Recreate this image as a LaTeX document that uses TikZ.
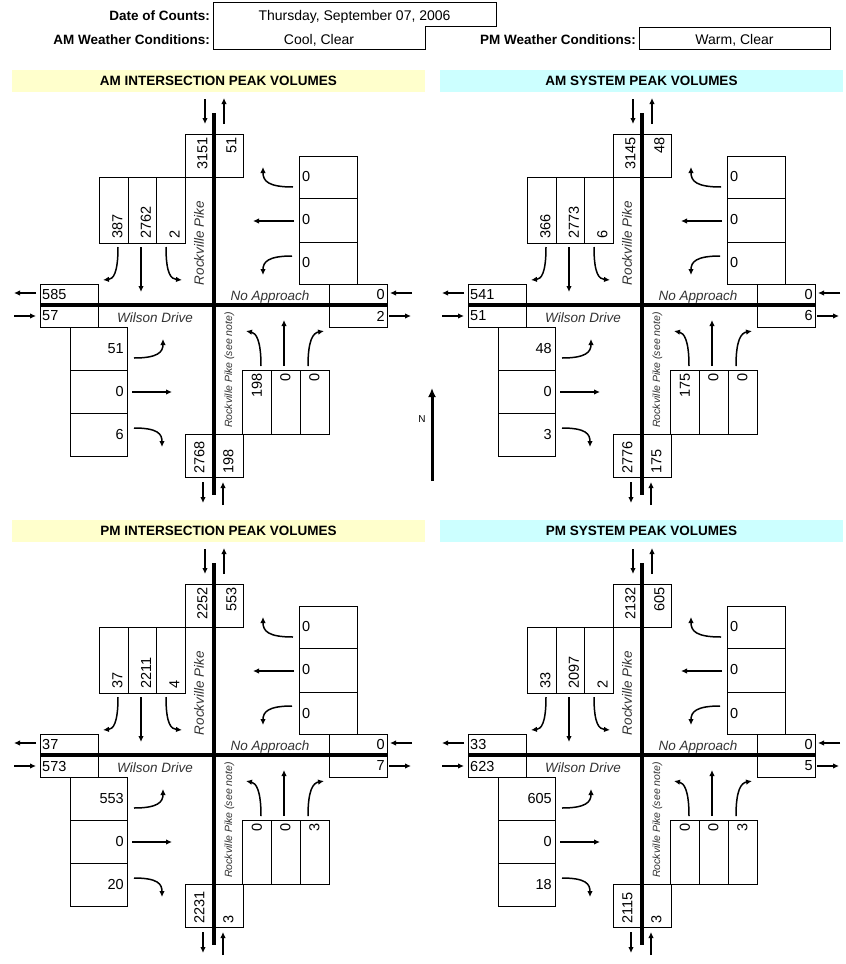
\documentclass[tikz,border=0pt]{standalone}
\usepackage{fontspec}
\setmainfont{Liberation Sans}
\usetikzlibrary{arrows.meta}
\definecolor{bandY}{HTML}{FFFFCC}
\definecolor{bandC}{HTML}{CCFFFF}
\definecolor{lblgray}{HTML}{333333}
\tikzset{
  box/.style={draw=black, line width=1pt},
  road/.style={line width=3.2pt, line cap=butt},
  arr/.style={line width=1.5pt, -{Latex[length=6pt,width=5.5pt]}},
  num/.style={inner sep=0pt, font=\fontsize{14.5}{15}\selectfont},
  vnum/.style={num, rotate=90},
  lbl/.style={inner sep=0pt, text=lblgray, font=\fontsize{13.5}{14}\selectfont\itshape},
  hdr/.style={inner sep=0pt, font=\fontsize{13.5}{16}\selectfont\bfseries},
  hval/.style={inner sep=0pt, font=\fontsize{14}{16}\selectfont},
  title/.style={inner sep=0pt, font=\fontsize{13.5}{16}\selectfont\bfseries},
}
\newcommand\drawquad[7]{%
\begin{scope}[shift={(#2,#3)}]
 \fill[#4] (#5,70) rectangle (#6,92);
 \node[title] (#1-title) at ({(#5+#6)/2},81) {#7};
 % boxes
 \draw[box] (185,134) rectangle (243,177);
 \draw[box] (99,177) rectangle (185,243) (128,177)--(128,243) (156,177)--(156,243);
 \draw[box] (299,156) rectangle (357,284) (299,198)--(357,198) (299,242)--(357,242);
 \draw[box] (40,284) rectangle (98,327);
 \draw[box] (329,284) rectangle (387,327);
 \draw[box] (70,327) rectangle (127,456) (70,370)--(127,370) (70,413)--(127,413);
 \draw[box] (242,370) rectangle (329,434) (271,370)--(271,434) (300,370)--(300,434);
 \draw[box] (185,434) rectangle (243,477);
 % roads
 \draw[road] (214,113) -- (214,495);
 \draw[road] (40,305) -- (387,305);
 % numbers
 \node[vnum,anchor=east] (#1-tl) at (202.5,137) {\qTL};
 \node[vnum,anchor=east] (#1-tr) at (231.5,137) {\qTR};
 \node[vnum,anchor=west] (#1-sa) at (117.5,239) {\qSA};
 \node[vnum,anchor=west] (#1-sb) at (146,239) {\qSB};
 \node[vnum,anchor=west] (#1-sc) at (174.5,239) {\qSC};
 \node[num,anchor=west] (#1-wa) at (302,177) {\qWA};
 \node[num,anchor=west] (#1-wb) at (302,220) {\qWB};
 \node[num,anchor=west] (#1-wc) at (302,263) {\qWC};
 \node[num,anchor=west] (#1-la) at (42,294.5) {\qLA};
 \node[num,anchor=west] (#1-lb) at (42,316) {\qLB};
 \node[num,anchor=east] (#1-ra) at (385,294.5) {\qRA};
 \node[num,anchor=east] (#1-rb) at (385,316) {\qRB};
 \node[num,anchor=east] (#1-ea) at (124,348.5) {\qEA};
 \node[num,anchor=east] (#1-eb) at (124,391.5) {\qEB};
 \node[num,anchor=east] (#1-ec) at (124,434.5) {\qEC};
 \node[vnum,anchor=east] (#1-na) at (257,373) {\qNA};
 \node[vnum,anchor=east] (#1-nb) at (285.5,373) {\qNB};
 \node[vnum,anchor=east] (#1-nc) at (314.5,373) {\qNC};
 \node[vnum,anchor=west] (#1-bl) at (199.5,474) {\qBL};
 \node[vnum,anchor=west] (#1-br) at (228.5,474) {\qBR};
 % labels
 \node[lbl,rotate=90] (#1-rp) at (199,243) {Rockville Pike};
 \node[lbl,anchor=base] (#1-noap) at (270,300) {No Approach};
 \node[lbl,anchor=base] (#1-wd) at (155,322) {Wilson Drive};
 \node[lbl,rotate=90,font=\fontsize{10.5}{12}\selectfont\itshape] (#1-rps) at (229.5,370) {Rockville Pike (see note)};
 % in/out arrows
 \draw[arr] (205,99) -- (205,124);
 \draw[arr] (224,124) -- (224,98);
 \draw[arr] (203,482) -- (203,503);
 \draw[arr] (223,505) -- (223,482);
 \draw[arr] (36,293) -- (14,293);
 \draw[arr] (14,316) -- (36,316);
 \draw[arr] (412,293) -- (390,293);
 \draw[arr] (389,316) -- (411,316);
 % southbound
 \draw[arr] (118,247) .. controls (118,274) and (113,279) .. (103,280);
 \draw[arr] (141,247) -- (141,292);
 \draw[arr] (166,247) .. controls (166,274) and (171,279) .. (182,280);
 % westbound
 \draw[arr] (293,187) .. controls (268,187) and (263,181) .. (263,167);
 \draw[arr] (294,221) -- (253,221);
 \draw[arr] (292,256) .. controls (268,256) and (263,262) .. (263,275);
 % eastbound
 \draw[arr] (134,358) .. controls (158,358) and (163,352) .. (163,339);
 \draw[arr] (132,392) -- (172,392);
 \draw[arr] (134,428) .. controls (158,428) and (162,434) .. (162,447);
 % northbound
 \draw[arr] (261,366) .. controls (261,340) and (256,333) .. (246,331);
 \draw[arr] (284,366) -- (284,320);
 \draw[arr] (308,366) .. controls (308,340) and (313,333) .. (324,331);
\end{scope}}
\begin{document}
\begin{tikzpicture}[x=1pt,y=-1pt]
\fill[white] (0,0) rectangle (846,964);
\useasboundingbox (0,0) rectangle (846,964);
% header
\node[hdr,anchor=base east] (dlab) at (210,20) {Date of Counts:};
\node[hdr,anchor=base east] (amlab) at (210,44) {AM Weather Conditions:};
\node[hdr,anchor=base east] (pmlab) at (636,44) {PM Weather Conditions:};
\node[hval,anchor=base] (date) at (354.5,20) {Thursday, September 07, 2006};
\node[hval,anchor=base] (amw) at (319,44) {Cool, Clear};
\node[hval,anchor=base] (pmw) at (734.5,44) {Warm, Clear};
\draw[box] (213,49) -- (213,2) -- (496,2) -- (496,26) -- (425,26);
\draw[box] (425,26) -- (425,49) -- (213,49);
\draw[box] (639,27) rectangle (830,49);
% AM intersection
\def\qTL{3151}\def\qTR{51}\def\qSA{387}\def\qSB{2762}\def\qSC{2}%
\def\qWA{0}\def\qWB{0}\def\qWC{0}\def\qLA{585}\def\qLB{57}\def\qRA{0}\def\qRB{2}%
\def\qEA{51}\def\qEB{0}\def\qEC{6}\def\qNA{198}\def\qNB{0}\def\qNC{0}\def\qBL{2768}\def\qBR{198}%
\drawquad{ai}{0}{0}{bandY}{12}{425}{AM INTERSECTION PEAK VOLUMES}
% AM system
\def\qTL{3145}\def\qTR{48}\def\qSA{366}\def\qSB{2773}\def\qSC{6}%
\def\qWA{0}\def\qWB{0}\def\qWC{0}\def\qLA{541}\def\qLB{51}\def\qRA{0}\def\qRB{6}%
\def\qEA{48}\def\qEB{0}\def\qEC{3}\def\qNA{175}\def\qNB{0}\def\qNC{0}\def\qBL{2776}\def\qBR{175}%
\drawquad{as}{428}{0}{bandC}{12}{415}{AM SYSTEM PEAK VOLUMES}
% PM intersection
\def\qTL{2252}\def\qTR{553}\def\qSA{37}\def\qSB{2211}\def\qSC{4}%
\def\qWA{0}\def\qWB{0}\def\qWC{0}\def\qLA{37}\def\qLB{573}\def\qRA{0}\def\qRB{7}%
\def\qEA{553}\def\qEB{0}\def\qEC{20}\def\qNA{0}\def\qNB{0}\def\qNC{3}\def\qBL{2231}\def\qBR{3}%
\drawquad{pi}{0}{450}{bandY}{12}{425}{PM INTERSECTION PEAK VOLUMES}
% PM system
\def\qTL{2132}\def\qTR{605}\def\qSA{33}\def\qSB{2097}\def\qSC{2}%
\def\qWA{0}\def\qWB{0}\def\qWC{0}\def\qLA{33}\def\qLB{623}\def\qRA{0}\def\qRB{5}%
\def\qEA{605}\def\qEB{0}\def\qEC{18}\def\qNA{0}\def\qNB{0}\def\qNC{3}\def\qBL{2115}\def\qBR{3}%
\drawquad{ps}{428}{450}{bandC}{12}{415}{PM SYSTEM PEAK VOLUMES}
% north arrow
\draw[line width=3pt, -{Latex[length=9pt,width=8pt]}] (432,481) -- (432,388);
\node[inner sep=0pt, font=\fontsize{10}{11}\selectfont] (north) at (422,419) {N};
\end{tikzpicture}
\end{document}
